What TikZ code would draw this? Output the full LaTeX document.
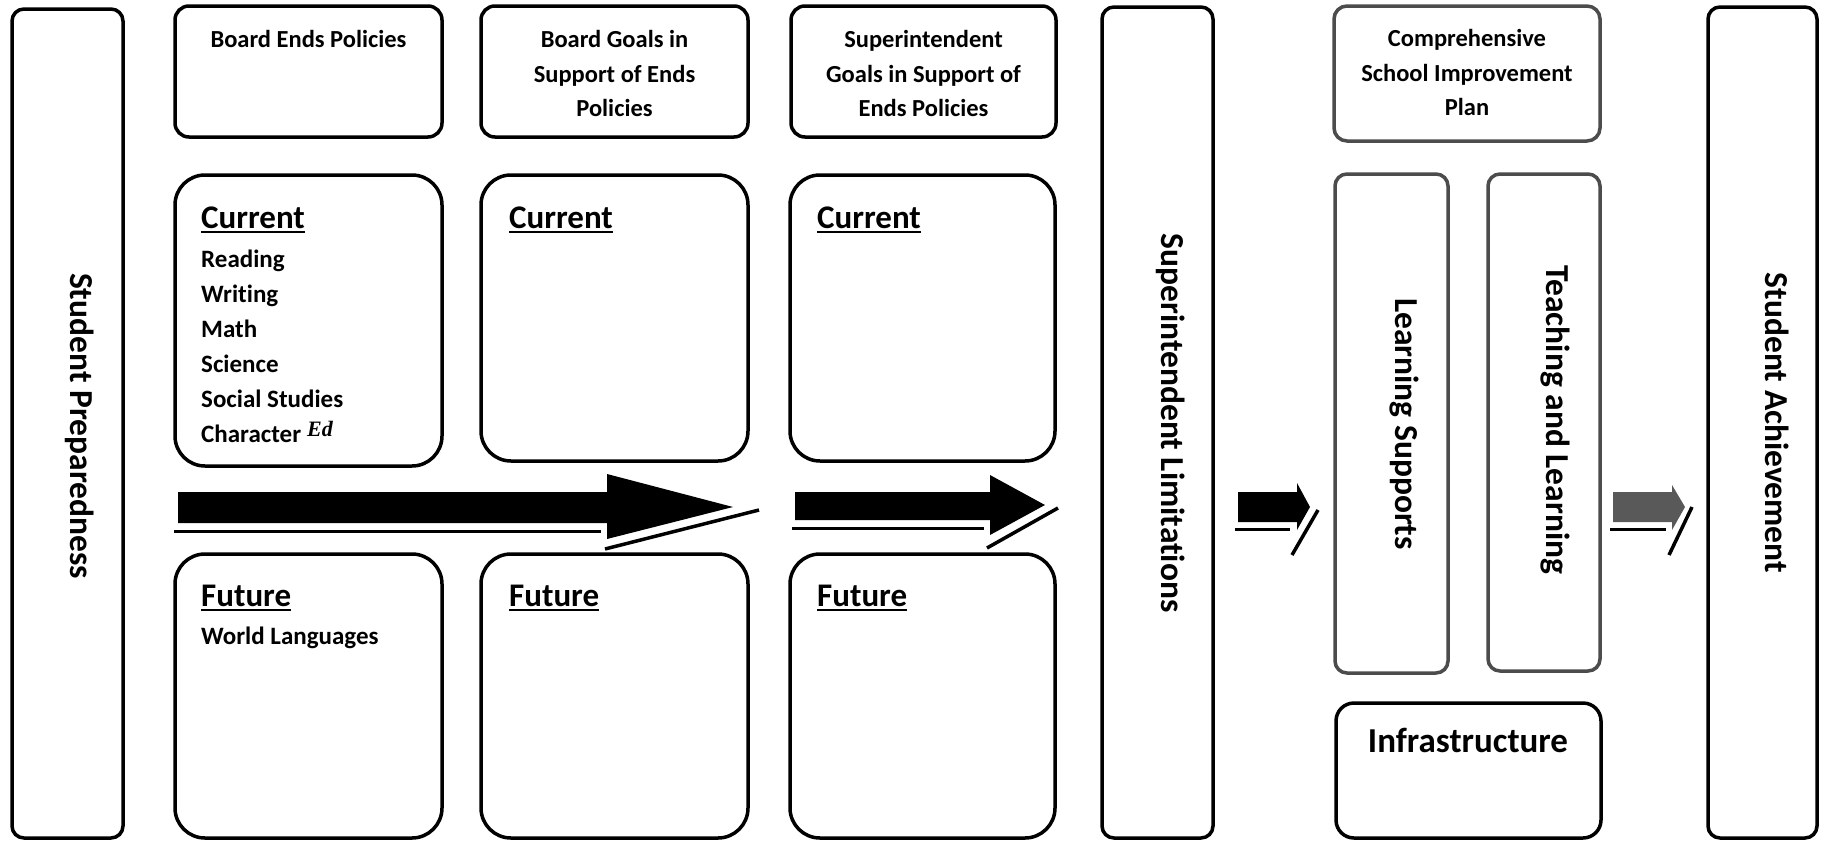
\documentclass[tikz,border=0pt]{standalone}
\usepackage{fontspec}
\setmainfont{Carlito}[Ligatures=CommonOff]
\newfontfamily\handfont{Liberation Serif}
\begin{document}
\begin{tikzpicture}[x=1pt,y=-1pt,
  box/.style={draw, line width=3.5pt, rounded corners=14pt},
  bigbox/.style={draw, line width=3.5pt, rounded corners=30pt},
  tallbox/.style={draw, line width=3.5pt, rounded corners=12pt},
  grainbox/.style={draw=black!70, line width=3.5pt, rounded corners=13pt},
  toptext/.style={font=\bfseries\fontsize{24.5}{30}\selectfont, anchor=base, inner sep=0pt},
  headtext/.style={font=\bfseries\fontsize{33}{40}\selectfont, anchor=base west, inner sep=0pt},
  itemtext/.style={font=\bfseries\fontsize{25}{30}\selectfont, anchor=base west, inner sep=0pt},
  vtext/.style={font=\bfseries\fontsize{33.5}{40}\selectfont, rotate=-90, inner sep=0pt},
  uline/.style={line width=2.5pt},
  blockarrow/.style={fill=black},
  shadowline/.style={line width=3pt},
  shadowdiag/.style={line width=3.5pt}
]
\useasboundingbox[fill=white] (0,0) rectangle (1826,841);

% ---- tall side boxes ----
\draw[tallbox] (12,9) rectangle (123,838);
\node[vtext] (sp) at (80,426) {Student Preparedness};
\draw[tallbox] (1102,7) rectangle (1213,838);
\node[vtext] (sl) at (1171,423) {Superintendent Limitations};
\draw[tallbox] (1708,7) rectangle (1817,838);
\node[vtext] (sa) at (1777,423) {Student Achievement};

% ---- top boxes ----
\draw[box] (175,6) rectangle (442,137);
\node[toptext] (t1a) at (308.5,47) {Board Ends Policies};

\draw[box] (481,6) rectangle (748,137);
\node[toptext] (t2a) at (614.5,47) {Board Goals in};
\node[toptext] (t2b) at (614.5,82) {Support of Ends};
\node[toptext] (t2c) at (614.5,116) {Policies};

\draw[box] (791,6) rectangle (1056,137);
\node[toptext] (t3a) at (923.5,47) {Superintendent};
\node[toptext] (t3b) at (923.5,82) {Goals in Support of};
\node[toptext] (t3c) at (923.5,116) {Ends Policies};

\draw[grainbox] (1334,6) rectangle (1600,141);
\node[toptext] (t4a) at (1467,46) {Comprehensive};
\node[toptext] (t4b) at (1467,81) {School Improvement};
\node[toptext] (t4c) at (1467,115) {Plan};

% ---- current boxes ----
\draw[bigbox] (175,175) rectangle (442,466);
\node[headtext] (c1) at (201,228) {Current};
\draw[uline] ([yshift=-4pt]c1.base west) -- ([yshift=-4pt]c1.base east);
\node[itemtext] (i1) at (201,267) {Reading};
\node[itemtext] (i2) at (201,302) {Writing};
\node[itemtext] (i3) at (201,337) {Math};
\node[itemtext] (i4) at (201,372) {Science};
\node[itemtext] (i5) at (201,407) {Social Studies};
\node[itemtext] (i6) at (201,442) {Character};
\node[anchor=base west, inner sep=0pt, font=\handfont\itshape\bfseries\fontsize{22}{24}\selectfont] (ed) at (307,436) {Ed};

\draw[bigbox] (481,175) rectangle (748,461);
\node[headtext] (c2) at (509,228) {Current};
\draw[uline] ([yshift=-4pt]c2.base west) -- ([yshift=-4pt]c2.base east);

\draw[bigbox] (790,175) rectangle (1055,461);
\node[headtext] (c3) at (817,228) {Current};
\draw[uline] ([yshift=-4pt]c3.base west) -- ([yshift=-4pt]c3.base east);

% ---- future boxes ----
\draw[bigbox] (175,554) rectangle (442,838);
\node[headtext] (f1) at (201,606) {Future};
\draw[uline] ([yshift=-4pt]f1.base west) -- ([yshift=-4pt]f1.base east);
\node[itemtext] (w1) at (201,644) {World Languages};

\draw[bigbox] (481,554) rectangle (748,838);
\node[headtext] (f2) at (509,606) {Future};
\draw[uline] ([yshift=-4pt]f2.base west) -- ([yshift=-4pt]f2.base east);

\draw[bigbox] (790,554) rectangle (1055,838);
\node[headtext] (f3) at (817,606) {Future};
\draw[uline] ([yshift=-4pt]f3.base west) -- ([yshift=-4pt]f3.base east);

% ---- CSIP sub boxes ----
\draw[grainbox, rounded corners=12pt] (1335,174) rectangle (1448,673);
\node[vtext] (ls) at (1404,424) {Learning Supports};
\draw[grainbox, rounded corners=12pt] (1488,174) rectangle (1600,671);
\node[vtext] (tl) at (1555,420) {Teaching and Learning};
\draw[box, rounded corners=18pt] (1336,703) rectangle (1601,838);
\node[anchor=base, inner sep=0pt, font=\bfseries\fontsize{35}{40}\selectfont] (inf) at (1468,752) {Infrastructure};

% ---- block arrows ----
\fill[blockarrow] (178,492) -- (607,492) -- (607,474) -- (733,507) -- (607,539) -- (607,523) -- (178,523) -- cycle;
\draw[shadowline] (174,531) -- (601,531);
\draw[shadowdiag] (605,549) -- (759,510);

\fill[blockarrow] (795,492) -- (990,492) -- (990,475) -- (1045,505) -- (990,535) -- (990,520) -- (795,520) -- cycle;
\draw[shadowline] (792,528) -- (984,528);
\draw[shadowdiag] (987,548) -- (1058,508);

\fill[blockarrow] (1238,492) -- (1297,492) -- (1297,483) -- (1310,507) -- (1297,530) -- (1297,522) -- (1238,522) -- cycle;
\draw[shadowline] (1235,529) -- (1290,529);
\draw[shadowdiag] (1292,555) -- (1318,510);

\fill[blockarrow, fill=black!65] (1613,492) -- (1672,492) -- (1672,485) -- (1685,507) -- (1672,530) -- (1672,522) -- (1613,522) -- cycle;
\draw[shadowline] (1610,529) -- (1666,529);
\draw[shadowdiag] (1669,555) -- (1692,507);
\end{tikzpicture}
\end{document}
